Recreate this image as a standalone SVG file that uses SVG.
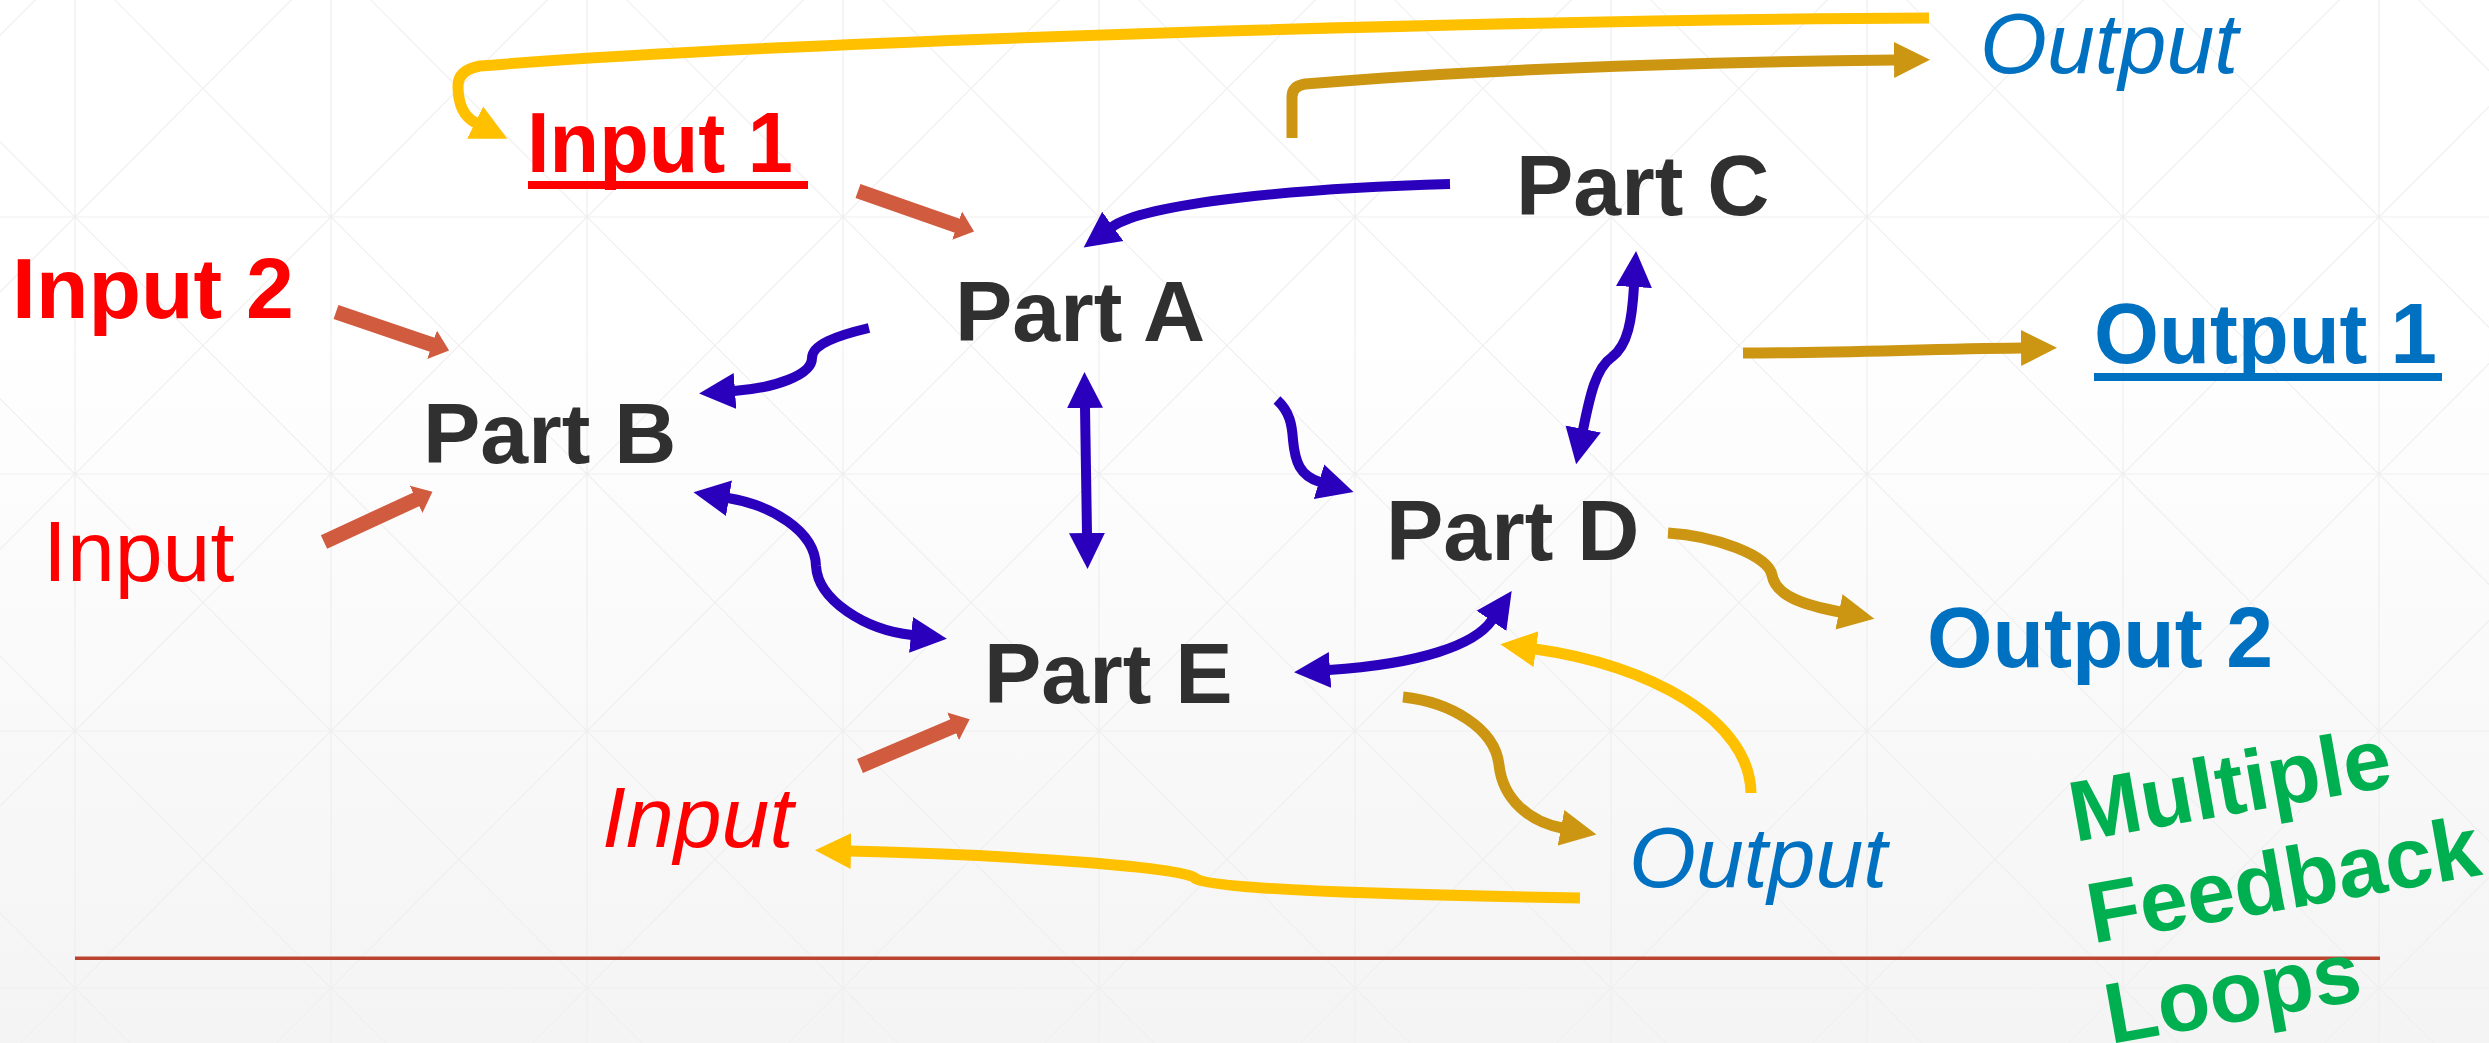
<svg xmlns="http://www.w3.org/2000/svg" width="2489" height="1043" viewBox="0 0 2489 1043">
<style>
.lbl{font-family:"Liberation Sans",Arial,sans-serif;font-size:86px}
.b{font-weight:bold}
.i{font-style:italic}
.part{fill:#303030}
.red{fill:#FF0000}
.blue{fill:#0070C0}
.green{fill:#00B050}
.c{fill:none;stroke-linecap:butt;stroke-linejoin:round}
.cb{stroke:#2A00BD;stroke-width:10;marker-end:url(#mBlue)}
.cbb{stroke:#2A00BD;stroke-width:10;marker-start:url(#mBlue);marker-end:url(#mBlue)}
.cg{stroke:#CC9612;stroke-width:11;marker-end:url(#mGold)}
.cy{stroke:#FFC000;stroke-width:11;marker-end:url(#mYel)}
.co{stroke:#D15B3F;stroke-width:15;marker-end:url(#mOra)}
</style>
<defs>
<linearGradient id="bg" x1="0" y1="0" x2="0" y2="1">
<stop offset="0" stop-color="#ffffff"/>
<stop offset="0.3" stop-color="#ffffff"/>
<stop offset="1" stop-color="#f4f4f4"/>
</linearGradient>
<pattern id="grid" x="75" y="217" width="256" height="257" patternUnits="userSpaceOnUse">
<path d="M0,0 H256 M0,257 H256 M0,0 V257 M256,0 V257 M0,0 L256,257 M256,0 L0,257" stroke="#efefef" stroke-width="1.2" fill="none"/>
</pattern>
<marker id="mBlue" markerUnits="userSpaceOnUse" markerWidth="38" markerHeight="38" viewBox="0 -19 38 38" refX="1" refY="0" orient="auto-start-reverse"><path d="M0,-18 L36,0 L0,18 z" fill="#2A00BD"/></marker>
<marker id="mGold" markerUnits="userSpaceOnUse" markerWidth="38" markerHeight="38" viewBox="0 -19 38 38" refX="1" refY="0" orient="auto"><path d="M0,-18 L36,0 L0,18 z" fill="#CC9612"/></marker>
<marker id="mYel" markerUnits="userSpaceOnUse" markerWidth="38" markerHeight="38" viewBox="0 -19 38 38" refX="1" refY="0" orient="auto"><path d="M0,-18 L36,0 L0,18 z" fill="#FFC000"/></marker>
<marker id="mOra" markerUnits="userSpaceOnUse" markerWidth="20" markerHeight="32" viewBox="0 -16 20 32" refX="1" refY="0" orient="auto"><path d="M0,-15 L18,0 L0,15 z" fill="#D15B3F"/></marker>
</defs>
<rect x="0" y="0" width="2489" height="1043" fill="url(#bg)"/>
<rect x="0" y="0" width="2489" height="1043" fill="url(#grid)"/>
<rect x="75" y="956.5" width="2305" height="3.5" fill="#BB4430"/>

<g id="connectors">
<path class="c cy" d="M1929,18 C1500,20 800,40 480,66 Q458,70 458,86 C458,104 464,117 476,123"/>
<path class="c cg" d="M1292,138 L1292,97 Q1292,86 1305,84 C1500,68 1700,62 1895,60"/>
<path class="c cb" d="M1450,184 C1300,188 1145,203 1112,227"/>
<path class="c co" d="M858,191 L958,226"/>
<path class="c co" d="M336,312 L433,345"/>
<path class="c co" d="M324,542 L417,499"/>
<path class="c co" d="M860,766 L954,726"/>
<path class="c cb" d="M869,328 C835,336 812,345 812,358 C812,375 775,388 734,391"/>
<path class="c cbb" d="M1085,407 L1087,534"/>
<path class="c cbb" d="M728,498 C770,505 815,530 816,566 C818,600 865,630 912,635"/>
<path class="c cb" d="M1277,400 C1290,412 1292,425 1293,440 C1295,462 1300,476 1320,482"/>
<path class="c cbb" d="M1634,286 C1632,320 1628,345 1612,357 C1596,368 1590,395 1583,430"/>
<path class="c cg" d="M1743,353 C1850,353 1920,349 2022,348"/>
<path class="c cg" d="M1668,533 C1715,536 1768,555 1772,575 C1776,598 1810,606 1840,612"/>
<path class="c cbb" d="M1492,620 C1475,645 1420,664 1329,670"/>
<path class="c cy" d="M1751,793 C1750,720 1650,665 1535,649"/>
<path class="c cg" d="M1403,697 C1450,702 1495,728 1499,765 C1503,800 1530,822 1562,828"/>
<path class="c cy" d="M1580,898 C1350,894 1205,888 1195,878 C1188,868 1020,855 850,851"/>
</g>

<g id="output-top"><text class="lbl i blue" x="1980" y="73">Output</text></g>
<g id="input1"><text class="lbl b red" x="527" y="172" textLength="266" lengthAdjust="spacingAndGlyphs">Input 1</text><rect x="528" y="181" width="280" height="8" fill="#FF0000"/></g>
<g id="part-c"><text class="lbl b part" x="1516" y="215">Part C</text></g>
<g id="input2"><text class="lbl b red" x="12" y="318">Input 2</text></g>
<g id="part-a"><text class="lbl b part" x="955" y="341">Part A</text></g>
<g id="output1"><text class="lbl b blue" x="2094" y="363" textLength="343" lengthAdjust="spacingAndGlyphs">Output 1</text><rect x="2094" y="373" width="348" height="8" fill="#0070C0"/></g>
<g id="part-b"><text class="lbl b part" x="423" y="463">Part B</text></g>
<g id="input-left"><text class="lbl red" x="43" y="581">Input</text></g>
<g id="part-d"><text class="lbl b part" x="1386" y="560">Part D</text></g>
<g id="output2"><text class="lbl b blue" x="1927" y="667" textLength="346" lengthAdjust="spacingAndGlyphs">Output 2</text></g>
<g id="part-e"><text class="lbl b part" x="984" y="703">Part E</text></g>
<g id="input-bottom"><text class="lbl i red" x="602" y="847">Input</text></g>
<g id="output-bottom"><text class="lbl i blue" x="1629" y="887">Output</text></g>
<g id="feedback-label"><text class="lbl b green" font-size="84" transform="translate(2075,842) rotate(-10)"><tspan x="0" y="0">Multiple</tspan><tspan x="0" y="103">Feedback</tspan><tspan x="0" y="205">Loops</tspan></text></g>
</svg>
